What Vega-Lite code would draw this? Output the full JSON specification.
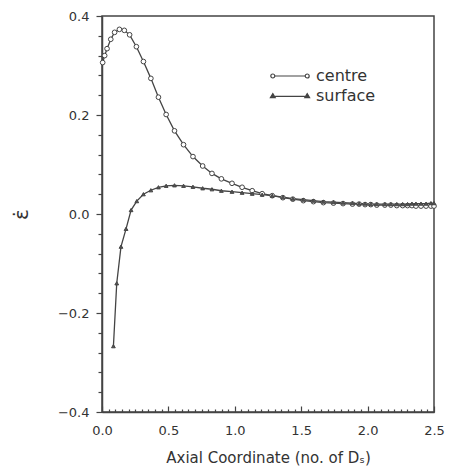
{
  "$schema": "https://vega.github.io/schema/vega-lite/v6.json",
  "width": 332,
  "height": 396,
  "autosize": "none",
  "padding": {"left": 102, "top": 16, "right": 24, "bottom": 58},
  "background": "white",
  "config": {"view": {"stroke": "#444", "strokeWidth": 1.5}, "font": "DejaVu Sans"},
  "data": {"values": [
    {"series": "centre", "x": 0.005, "y": 0.306},
    {"series": "centre", "x": 0.02, "y": 0.320},
    {"series": "centre", "x": 0.038, "y": 0.334},
    {"series": "centre", "x": 0.066, "y": 0.353},
    {"series": "centre", "x": 0.095, "y": 0.367},
    {"series": "centre", "x": 0.131, "y": 0.373},
    {"series": "centre", "x": 0.168, "y": 0.371},
    {"series": "centre", "x": 0.208, "y": 0.362},
    {"series": "centre", "x": 0.259, "y": 0.338},
    {"series": "centre", "x": 0.312, "y": 0.308},
    {"series": "centre", "x": 0.368, "y": 0.274},
    {"series": "centre", "x": 0.425, "y": 0.236},
    {"series": "centre", "x": 0.483, "y": 0.201},
    {"series": "centre", "x": 0.546, "y": 0.168},
    {"series": "centre", "x": 0.614, "y": 0.140},
    {"series": "centre", "x": 0.685, "y": 0.116},
    {"series": "centre", "x": 0.758, "y": 0.097},
    {"series": "centre", "x": 0.828, "y": 0.082},
    {"series": "centre", "x": 0.899, "y": 0.071},
    {"series": "centre", "x": 0.979, "y": 0.062},
    {"series": "centre", "x": 1.055, "y": 0.054},
    {"series": "centre", "x": 1.131, "y": 0.047},
    {"series": "centre", "x": 1.206, "y": 0.041},
    {"series": "centre", "x": 1.282, "y": 0.037},
    {"series": "centre", "x": 1.362, "y": 0.033},
    {"series": "centre", "x": 1.437, "y": 0.030},
    {"series": "centre", "x": 1.516, "y": 0.027},
    {"series": "centre", "x": 1.592, "y": 0.025},
    {"series": "centre", "x": 1.667, "y": 0.023},
    {"series": "centre", "x": 1.743, "y": 0.022},
    {"series": "centre", "x": 1.815, "y": 0.021},
    {"series": "centre", "x": 1.886, "y": 0.020},
    {"series": "centre", "x": 1.936, "y": 0.020},
    {"series": "centre", "x": 1.981, "y": 0.019},
    {"series": "centre", "x": 2.024, "y": 0.019},
    {"series": "centre", "x": 2.069, "y": 0.018},
    {"series": "centre", "x": 2.13, "y": 0.018},
    {"series": "centre", "x": 2.175, "y": 0.018},
    {"series": "centre", "x": 2.22, "y": 0.017},
    {"series": "centre", "x": 2.264, "y": 0.017},
    {"series": "centre", "x": 2.301, "y": 0.017},
    {"series": "centre", "x": 2.334, "y": 0.017},
    {"series": "centre", "x": 2.364, "y": 0.016},
    {"series": "centre", "x": 2.402, "y": 0.016},
    {"series": "centre", "x": 2.44, "y": 0.016},
    {"series": "centre", "x": 2.477, "y": 0.016},
    {"series": "centre", "x": 2.5, "y": 0.016},
    {"series": "surface", "x": 0.086, "y": -0.267},
    {"series": "surface", "x": 0.111, "y": -0.140},
    {"series": "surface", "x": 0.143, "y": -0.066},
    {"series": "surface", "x": 0.181, "y": -0.030},
    {"series": "surface", "x": 0.219, "y": 0.008},
    {"series": "surface", "x": 0.262, "y": 0.026},
    {"series": "surface", "x": 0.312, "y": 0.040},
    {"series": "surface", "x": 0.368, "y": 0.048},
    {"series": "surface", "x": 0.425, "y": 0.054},
    {"series": "surface", "x": 0.483, "y": 0.057},
    {"series": "surface", "x": 0.546, "y": 0.058},
    {"series": "surface", "x": 0.614, "y": 0.057},
    {"series": "surface", "x": 0.685, "y": 0.055},
    {"series": "surface", "x": 0.758, "y": 0.052},
    {"series": "surface", "x": 0.828, "y": 0.050},
    {"series": "surface", "x": 0.899, "y": 0.047},
    {"series": "surface", "x": 0.979, "y": 0.045},
    {"series": "surface", "x": 1.055, "y": 0.043},
    {"series": "surface", "x": 1.131, "y": 0.041},
    {"series": "surface", "x": 1.206, "y": 0.039},
    {"series": "surface", "x": 1.282, "y": 0.037},
    {"series": "surface", "x": 1.362, "y": 0.034},
    {"series": "surface", "x": 1.437, "y": 0.031},
    {"series": "surface", "x": 1.516, "y": 0.029},
    {"series": "surface", "x": 1.592, "y": 0.027},
    {"series": "surface", "x": 1.667, "y": 0.025},
    {"series": "surface", "x": 1.743, "y": 0.024},
    {"series": "surface", "x": 1.815, "y": 0.023},
    {"series": "surface", "x": 1.886, "y": 0.022},
    {"series": "surface", "x": 1.936, "y": 0.021},
    {"series": "surface", "x": 1.981, "y": 0.021},
    {"series": "surface", "x": 2.024, "y": 0.020},
    {"series": "surface", "x": 2.069, "y": 0.020},
    {"series": "surface", "x": 2.13, "y": 0.020},
    {"series": "surface", "x": 2.175, "y": 0.020},
    {"series": "surface", "x": 2.22, "y": 0.020},
    {"series": "surface", "x": 2.264, "y": 0.020},
    {"series": "surface", "x": 2.301, "y": 0.020},
    {"series": "surface", "x": 2.334, "y": 0.021},
    {"series": "surface", "x": 2.364, "y": 0.021},
    {"series": "surface", "x": 2.402, "y": 0.021},
    {"series": "surface", "x": 2.44, "y": 0.021},
    {"series": "surface", "x": 2.477, "y": 0.022},
    {"series": "surface", "x": 2.5, "y": 0.022}
  ]},
  "encoding": {
    "x": {
      "field": "x", "type": "quantitative",
      "scale": {"domain": [0, 2.5], "nice": false, "zero": false},
      "axis": {
        "values": [0,0.05,0.1,0.15,0.2,0.25,0.3,0.35,0.4,0.45,0.5,0.55,0.6,0.65,0.7,0.75,0.8,0.85,0.9,0.95,1,1.05,1.1,1.15,1.2,1.25,1.3,1.35,1.4,1.45,1.5,1.55,1.6,1.65,1.7,1.75,1.8,1.85,1.9,1.95,2,2.05,2.1,2.15,2.2,2.25,2.3,2.35,2.4,2.45,2.5],
        "labelExpr": "abs(datum.value*2-round(datum.value*2))<1e-6 ? format(datum.value,'.1f') : ''",
        "tickSize": {"condition": {"test": "abs(datum.value*2-round(datum.value*2))<1e-6", "value": -6}, "value": -3},
        "title": "Axial Coordinate (no. of Dₛ)",
        "titleFont": "DejaVu Sans", "titleFontSize": 15, "titleFontWeight": "normal", "titleColor": "#333",
        "titlePadding": 10,
        "labelFont": "DejaVu Sans", "labelFontSize": 13, "labelColor": "#333", "labelPadding": 18,
        "labelOverlap": false, "labelFlush": false,
        "grid": false, "domainColor": "#444", "domainWidth": 1.5, "tickColor": "#444", "tickWidth": 1.2
      }
    },
    "y": {
      "field": "y", "type": "quantitative",
      "scale": {"domain": [-0.4, 0.4], "nice": false, "zero": false},
      "axis": {
        "values": [-0.4,-0.36,-0.32,-0.28,-0.24,-0.2,-0.16,-0.12,-0.08,-0.04,0,0.04,0.08,0.12,0.16,0.2,0.24,0.28,0.32,0.36,0.4],
        "labelExpr": "abs(datum.value*5-round(datum.value*5))<1e-6 ? format(datum.value,'.1f') : ''",
        "tickSize": {"condition": {"test": "abs(datum.value*5-round(datum.value*5))<1e-6", "value": 6}, "value": 4},
        "title": "ε̇",
        "titleFont": "DejaVu Sans", "titleFontSize": 20, "titleFontWeight": "normal", "titleColor": "#333",
        "titlePadding": 26,
        "labelFont": "DejaVu Sans", "labelFontSize": 13, "labelColor": "#333", "labelPadding": 7,
        "labelOverlap": false, "labelFlush": false,
        "grid": false, "domainColor": "#444", "domainWidth": 1.5, "tickColor": "#444", "tickWidth": 1.2
      }
    }
  },
  "layer": [
    {
      "mark": {"type": "line", "strokeWidth": 1.3},
      "encoding": {
        "color": {
          "field": "series", "type": "nominal",
          "scale": {"domain": ["centre", "surface"], "range": ["#444", "#444"]},
          "legend": {
            "orient": "none", "legendX": 179, "legendY": 51, "title": null,
            "symbolSize": 256, "symbolStrokeWidth": 1.2, "symbolStrokeColor": "#444",
            "labelFont": "DejaVu Sans", "labelFontSize": 16, "labelColor": "#333", "labelOffset": 17,
            "rowPadding": 3, "padding": 0,
            "encode": {"symbols": {"update": {
              "shape": {"signal": "datum.value === 'centre' ? 'M-2.4,0A0.25,0.25 0 1,0 -1.9,0A0.25,0.25 0 1,0 -2.4,0M-1.9,0L1.9,0M1.9,0A0.25,0.25 0 1,0 2.4,0A0.25,0.25 0 1,0 1.9,0' : 'M-2.15,-0.3L-1.85,0.2L-2.45,0.2ZM-1.85,0.05L1.85,0.05M2.15,-0.3L2.45,0.2L1.85,0.2Z'"},
              "fill": {"signal": "datum.value === 'centre' ? 'white' : '#444'"},
              "stroke": {"value": "#444"},
              "strokeWidth": {"value": 1.2}
            }}}
          }
        }
      }
    },
    {
      "transform": [{"filter": "datum.series === 'centre'"}],
      "mark": {"type": "point", "shape": "circle", "filled": true, "fill": "white", "stroke": "#444", "strokeWidth": 1, "opacity": 1, "size": 22}
    },
    {
      "transform": [{"filter": "datum.series === 'surface'"}],
      "mark": {"type": "point", "shape": "triangle-up", "filled": true, "fill": "#555", "stroke": "#444", "strokeWidth": 1, "opacity": 1, "size": 14}
    }
  ]
}
